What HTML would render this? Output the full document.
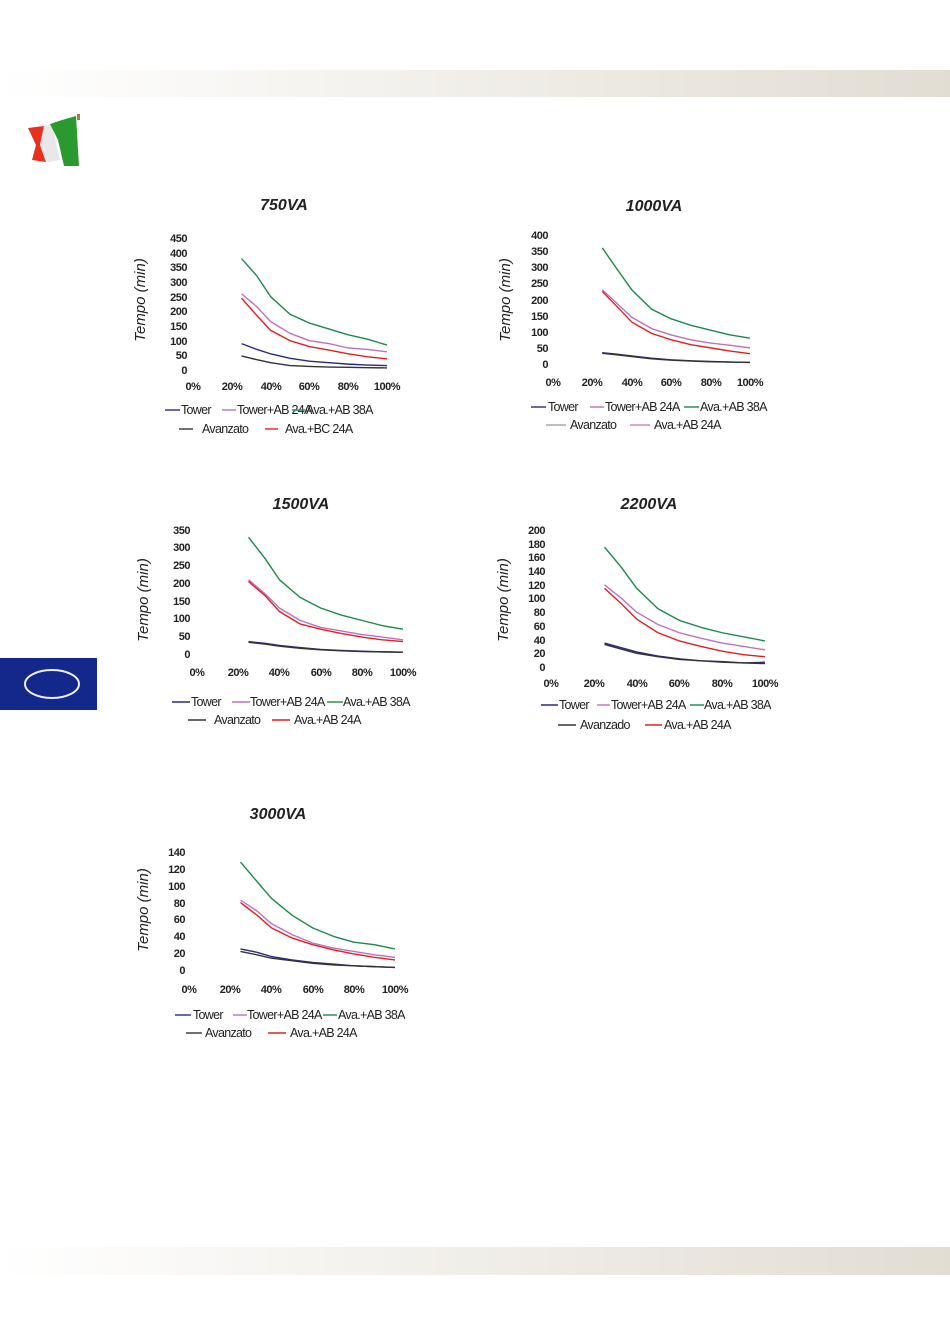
<!DOCTYPE html>
<html><head><meta charset="utf-8"><style>
html,body{margin:0;padding:0;background:#fff;}
svg{display:block;font-family:"Liberation Sans",sans-serif;}
.t{font-size:11px;fill:#222;font-weight:bold;letter-spacing:-0.5px;}
.l{font-size:12.5px;fill:#222;letter-spacing:-0.7px;}
.ti{font-size:16px;font-weight:bold;font-style:italic;fill:#222;}
.ya{font-size:15px;font-style:italic;fill:#222;}
polyline{fill:none;stroke-width:1.4;vector-effect:non-scaling-stroke;stroke-linejoin:round;}
.G{stroke:#1a8a4a}.P{stroke:#c070c0}.R{stroke:#e02020}.N{stroke:#2a2a80}.D{stroke:#333}
</style></head><body>
<svg width="950" height="1343" viewBox="0 0 950 1343">
<defs>
<linearGradient id="bar" x1="0" x2="1"><stop offset="0" stop-color="#ffffff"/><stop offset="1" stop-color="#e2ddd3"/></linearGradient>
</defs>
<rect x="0" y="70" width="950" height="27" fill="url(#bar)"/>
<rect x="0" y="1247" width="950" height="28" fill="url(#bar)"/>
<polygon points="28,128 44,126 40,145 46,162 32,160 36,145" fill="#e83020"/>
<polygon points="44,126 52,124 60,160 48,162 40,145" fill="#e8e8e8"/>
<polygon points="50,124 62,120 76,116 79,166 64,166 58,140" fill="#2a9a30"/>
<rect x="77" y="114" width="3" height="6" fill="#a08040"/>
<rect x="0" y="658" width="97" height="52" fill="#14288c"/>
<ellipse cx="52" cy="684" rx="27" ry="14" fill="none" stroke="#eef" stroke-width="2"/>

<!-- 750VA -->
<text class="ti" x="284" y="210" text-anchor="middle">750VA</text>
<text class="ya" transform="translate(145,300) rotate(-90)" text-anchor="middle">Tempo (min)</text>
<g class="t" text-anchor="end">
<text x="187" y="374">0</text><text x="187" y="359">50</text><text x="187" y="345">100</text><text x="187" y="330">150</text><text x="187" y="315">200</text><text x="187" y="301">250</text><text x="187" y="286">300</text><text x="187" y="271">350</text><text x="187" y="257">400</text><text x="187" y="242">450</text>
</g>
<g class="t" text-anchor="middle">
<text x="193" y="390">0%</text><text x="232" y="390">20%</text><text x="271" y="390">40%</text><text x="309" y="390">60%</text><text x="348" y="390">80%</text><text x="387" y="390">100%</text>
</g>
<g transform="translate(193,370) scale(1.94,-0.2933)">
<polyline class="G" points="25,380 33,320 40,250 50,190 60,160 70,140 80,120 90,105 100,85"/>
<polyline class="P" points="25,260 33,215 40,165 50,125 60,100 70,90 80,75 90,70 100,62"/>
<polyline class="R" points="25,245 33,185 40,135 50,100 60,80 70,68 80,55 90,45 100,38"/>
<polyline class="N" points="25,90 33,70 40,55 50,40 60,30 70,25 80,20 90,17 100,15"/>
<polyline class="D" points="25,48 33,35 40,25 50,15 60,12 70,10 80,9 90,8 100,7"/>
</g>
<line x1="165" y1="410" x2="180" y2="410" class="N" stroke-width="1.4"/><text class="l" x="181" y="414">Tower</text>
<line x1="222" y1="410" x2="236" y2="410" class="P" stroke-width="1.4"/><text class="l" x="237" y="414">Tower+AB 24A</text>
<line x1="292" y1="410" x2="305" y2="410" class="G" stroke-width="1.4"/><text class="l" x="306" y="414">Ava.+AB 38A</text>
<line x1="179" y1="429" x2="193" y2="429" class="D" stroke-width="1.4"/><text class="l" x="202" y="433">Avanzato</text>
<line x1="265" y1="429" x2="278" y2="429" class="R" stroke-width="1.4"/><text class="l" x="285" y="433">Ava.+BC 24A</text>

<!-- 1000VA -->
<text class="ti" x="654" y="211" text-anchor="middle">1000VA</text>
<text class="ya" transform="translate(510,300) rotate(-90)" text-anchor="middle">Tempo (min)</text>
<g class="t" text-anchor="end">
<text x="548" y="368">0</text><text x="548" y="352">50</text><text x="548" y="336">100</text><text x="548" y="320">150</text><text x="548" y="304">200</text><text x="548" y="287">250</text><text x="548" y="271">300</text><text x="548" y="255">350</text><text x="548" y="239">400</text>
</g>
<g class="t" text-anchor="middle">
<text x="553" y="386">0%</text><text x="592" y="386">20%</text><text x="632" y="386">40%</text><text x="671" y="386">60%</text><text x="711" y="386">80%</text><text x="750" y="386">100%</text>
</g>
<g transform="translate(553,364) scale(1.97,-0.3225)">
<polyline class="G" points="25,360 33,290 40,230 50,170 60,140 70,120 80,105 90,90 100,80"/>
<polyline class="P" points="25,230 33,185 40,145 50,110 60,90 70,75 80,65 90,58 100,50"/>
<polyline class="R" points="25,225 33,175 40,130 50,95 60,75 70,60 80,50 90,40 100,32"/>
<polyline class="N" points="25,35 33,30 40,25 50,18 60,13 70,10 80,8 90,6 100,5"/>
<polyline class="D" points="25,33 33,28 40,23 50,16 60,12 70,9 80,7 90,6 100,5"/>
</g>
<line x1="531" y1="407" x2="546" y2="407" class="N" stroke-width="1.4"/><text class="l" x="548" y="411">Tower</text>
<line x1="590" y1="407" x2="604" y2="407" class="P" stroke-width="1.4"/><text class="l" x="605" y="411">Tower+AB 24A</text>
<line x1="684" y1="407" x2="699" y2="407" class="G" stroke-width="1.4"/><text class="l" x="700" y="411">Ava.+AB 38A</text>
<line x1="546" y1="425" x2="566" y2="425" stroke="#b0a0c8" stroke-width="1.4"/><text class="l" x="570" y="429">Avanzato</text>
<line x1="630" y1="425" x2="650" y2="425" stroke="#e080c0" stroke-width="1.4"/><text class="l" x="654" y="429">Ava.+AB 24A</text>

<!-- 1500VA -->
<text class="ti" x="301" y="509" text-anchor="middle">1500VA</text>
<text class="ya" transform="translate(148,600) rotate(-90)" text-anchor="middle">Tempo (min)</text>
<g class="t" text-anchor="end">
<text x="190" y="658">0</text><text x="190" y="640">50</text><text x="190" y="622">100</text><text x="190" y="605">150</text><text x="190" y="587">200</text><text x="190" y="569">250</text><text x="190" y="551">300</text><text x="190" y="534">350</text>
</g>
<g class="t" text-anchor="middle">
<text x="197" y="676">0%</text><text x="238" y="676">20%</text><text x="279" y="676">40%</text><text x="321" y="676">60%</text><text x="362" y="676">80%</text><text x="403" y="676">100%</text>
</g>
<g transform="translate(197,654) scale(2.06,-0.354)">
<polyline class="G" points="25,330 33,270 40,210 50,160 60,130 70,110 80,95 90,80 100,70"/>
<polyline class="P" points="25,210 33,170 40,130 50,95 60,75 70,65 80,55 90,48 100,40"/>
<polyline class="R" points="25,205 33,165 40,120 50,85 60,70 70,58 80,48 90,40 100,35"/>
<polyline class="N" points="25,35 33,30 40,24 50,18 60,13 70,10 80,8 90,6 100,5"/>
<polyline class="D" points="25,33 33,28 40,22 50,16 60,12 70,9 80,7 90,6 100,5"/>
</g>
<line x1="172" y1="702" x2="190" y2="702" class="N" stroke-width="1.4"/><text class="l" x="191" y="706">Tower</text>
<line x1="232" y1="702" x2="250" y2="702" class="P" stroke-width="1.4"/><text class="l" x="250" y="706">Tower+AB 24A</text>
<line x1="327" y1="702" x2="343" y2="702" class="G" stroke-width="1.4"/><text class="l" x="343" y="706">Ava.+AB 38A</text>
<line x1="188" y1="720" x2="206" y2="720" class="D" stroke-width="1.4"/><text class="l" x="214" y="724">Avanzato</text>
<line x1="272" y1="720" x2="290" y2="720" class="R" stroke-width="1.4"/><text class="l" x="294" y="724">Ava.+AB 24A</text>

<!-- 2200VA -->
<text class="ti" x="649" y="509" text-anchor="middle">2200VA</text>
<text class="ya" transform="translate(508,600) rotate(-90)" text-anchor="middle">Tempo (min)</text>
<g class="t" text-anchor="end">
<text x="545" y="671">0</text><text x="545" y="657">20</text><text x="545" y="644">40</text><text x="545" y="630">60</text><text x="545" y="616">80</text><text x="545" y="602">100</text><text x="545" y="589">120</text><text x="545" y="575">140</text><text x="545" y="561">160</text><text x="545" y="548">180</text><text x="545" y="534">200</text>
</g>
<g class="t" text-anchor="middle">
<text x="551" y="687">0%</text><text x="594" y="687">20%</text><text x="637" y="687">40%</text><text x="679" y="687">60%</text><text x="722" y="687">80%</text><text x="765" y="687">100%</text>
</g>
<g transform="translate(551,667) scale(2.14,-0.685)">
<polyline class="G" points="25,175 33,145 40,115 50,85 60,68 70,58 80,50 90,44 100,38"/>
<polyline class="P" points="25,120 33,100 40,80 50,62 60,50 70,42 80,35 90,30 100,25"/>
<polyline class="R" points="25,115 33,92 40,70 50,50 60,38 70,30 80,23 90,18 100,15"/>
<polyline class="N" points="25,35 33,28 40,22 50,16 60,12 70,9 80,8 90,6 100,7"/>
<polyline class="D" points="25,33 33,26 40,20 50,15 60,11 70,9 80,7 90,6 100,5"/>
</g>
<line x1="541" y1="705" x2="558" y2="705" class="N" stroke-width="1.4"/><text class="l" x="559" y="709">Tower</text>
<line x1="597" y1="705" x2="610" y2="705" class="P" stroke-width="1.4"/><text class="l" x="611" y="709">Tower+AB 24A</text>
<line x1="690" y1="705" x2="704" y2="705" class="G" stroke-width="1.4"/><text class="l" x="704" y="709">Ava.+AB 38A</text>
<line x1="558" y1="725" x2="576" y2="725" class="D" stroke-width="1.4"/><text class="l" x="580" y="729">Avanzado</text>
<line x1="645" y1="725" x2="662" y2="725" class="R" stroke-width="1.4"/><text class="l" x="664" y="729">Ava.+AB 24A</text>

<!-- 3000VA -->
<text class="ti" x="278" y="819" text-anchor="middle">3000VA</text>
<text class="ya" transform="translate(148,910) rotate(-90)" text-anchor="middle">Tempo (min)</text>
<g class="t" text-anchor="end">
<text x="185" y="974">0</text><text x="185" y="957">20</text><text x="185" y="940">40</text><text x="185" y="923">60</text><text x="185" y="907">80</text><text x="185" y="890">100</text><text x="185" y="873">120</text><text x="185" y="856">140</text>
</g>
<g class="t" text-anchor="middle">
<text x="189" y="993">0%</text><text x="230" y="993">20%</text><text x="271" y="993">40%</text><text x="313" y="993">60%</text><text x="354" y="993">80%</text><text x="395" y="993">100%</text>
</g>
<g transform="translate(189,970) scale(2.06,-0.843)">
<polyline class="G" points="25,128 33,105 40,85 50,65 60,50 70,40 80,33 90,30 100,25"/>
<polyline class="P" points="25,83 33,70 40,55 50,42 60,32 70,26 80,22 90,18 100,15"/>
<polyline class="R" points="25,80 33,65 40,50 50,38 60,30 70,24 80,19 90,15 100,12"/>
<polyline class="N" points="25,25 33,21 40,16 50,12 60,9 70,7 80,5 90,4 100,3"/>
<polyline class="D" points="25,22 33,18 40,14 50,11 60,8 70,6 80,5 90,4 100,3"/>
</g>
<line x1="175" y1="1015" x2="191" y2="1015" class="N" stroke-width="1.4"/><text class="l" x="193" y="1019">Tower</text>
<line x1="233" y1="1015" x2="247" y2="1015" class="P" stroke-width="1.4"/><text class="l" x="247" y="1019">Tower+AB 24A</text>
<line x1="323" y1="1015" x2="337" y2="1015" class="G" stroke-width="1.4"/><text class="l" x="338" y="1019">Ava.+AB 38A</text>
<line x1="186" y1="1033" x2="202" y2="1033" class="D" stroke-width="1.4"/><text class="l" x="205" y="1037">Avanzato</text>
<line x1="268" y1="1033" x2="286" y2="1033" class="R" stroke-width="1.4"/><text class="l" x="290" y="1037">Ava.+AB 24A</text>
</svg>
</body></html>
